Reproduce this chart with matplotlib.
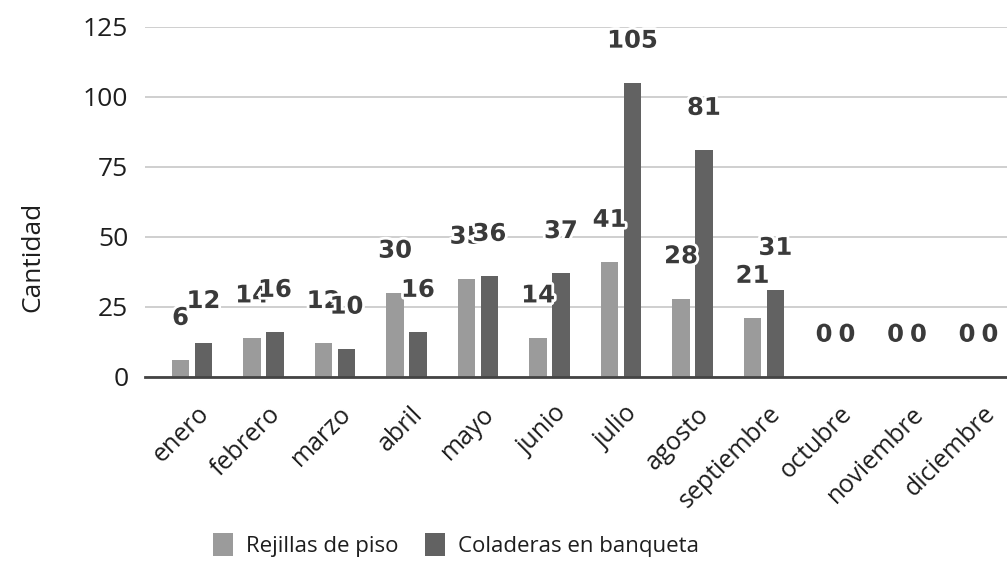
import matplotlib.pyplot as plt
import matplotlib.patheffects as pe
import matplotlib.transforms as mtransforms
import numpy as np

months = ['enero', 'febrero', 'marzo', 'abril', 'mayo', 'junio', 'julio',
          'agosto', 'septiembre', 'octubre', 'noviembre', 'diciembre']
rejillas = [6, 14, 12, 30, 35, 14, 41, 28, 21, 0, 0, 0]
coladeras = [12, 16, 10, 16, 36, 37, 105, 81, 31, 0, 0, 0]
series_names = ['Rejillas de piso', 'Coladeras en banqueta']
yticks = [0, 25, 50, 75, 100, 125]

LIGHT = '#9b9b9b'
DARK = '#626262'
LABEL = '#3a3a3a'
TXT = '#1e1e1e'


def add_labels(ax, xs, vals):
    # value labels with a white halo, sitting ~42px over the bar top
    for x, v in zip(xs, vals):
        ax.annotate(str(v), (x, v), xytext=(0, 30.5), textcoords='offset points',
                    ha='center', va='center', fontsize=17.5, fontweight='bold',
                    family='DejaVu Sans', color=LABEL,
                    path_effects=[pe.withStroke(linewidth=4, foreground='white')])


def main():
    fig = plt.figure(figsize=(10.07, 5.61), dpi=100)
    ax = fig.add_axes([145 / 1007, 1 - 377 / 561, 862 / 1007, 350 / 561])

    x = np.arange(len(months))
    w = 0.245
    off = 0.16
    b1 = ax.bar(x - off, rejillas, w, color=LIGHT, zorder=2, label=series_names[0])
    b2 = ax.bar(x + off, coladeras, w, color=DARK, zorder=2, label=series_names[1])

    add_labels(ax, x - off, rejillas)
    add_labels(ax, x + off, coladeras)

    ax.set_xlim(-0.657, 11.4)
    ax.set_ylim(0, 125)
    ax.set_yticks(yticks)
    ax.grid(axis='y', color='#cfcfcf', linewidth=1.4, zorder=0)
    ax.set_axisbelow(True)
    for s in ['top', 'right', 'left']:
        ax.spines[s].set_visible(False)
    ax.spines['bottom'].set_color('#444444')
    ax.spines['bottom'].set_linewidth(2)
    ax.spines['bottom'].set_zorder(3)

    ax.tick_params(axis='both', length=0)
    ax.tick_params(axis='y', pad=12, labelsize=19, labelcolor=TXT)
    for t in ax.get_yticklabels():
        t.set_family('Open Sans')

    ax.set_xticks(x)
    ax.set_xticklabels(months, rotation=45, ha='right', va='center',
                       rotation_mode='anchor', fontsize=18, color=TXT,
                       family='Open Sans')
    ax.tick_params(axis='x', pad=24)
    shift = mtransforms.ScaledTranslation(13 / 100, 0, fig.dpi_scale_trans)
    for t in ax.get_xticklabels():
        t.set_transform(t.get_transform() + shift)

    fig.text(33 / 1007, 1 - 257 / 561, 'Cantidad', rotation=90, ha='center',
             va='center', fontsize=19, color=TXT, family='Open Sans')

    fig.legend(handles=[b1, b2], loc='center', bbox_to_anchor=(456 / 1007, 1 - 545 / 561),
               ncol=2, frameon=False, prop={'family': 'Open Sans', 'size': 16},
               handlelength=0.9, handleheight=1.2, handletextpad=0.6,
               columnspacing=1.2, labelcolor=TXT)

    fig.savefig('out.png', dpi=100, facecolor='white')


if __name__ == "__main__":
    main()
